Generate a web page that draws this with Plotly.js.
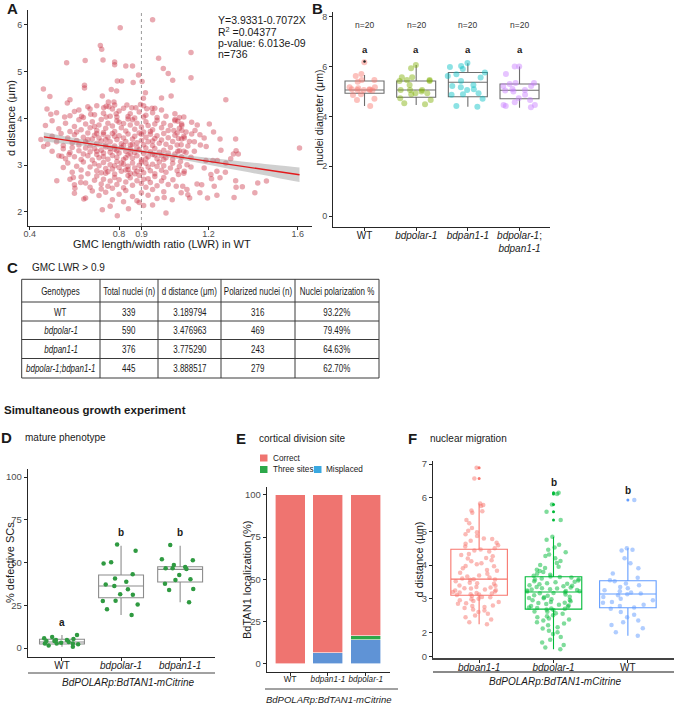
<!DOCTYPE html>
<html><head><meta charset="utf-8">
<script src="https://cdn.plot.ly/plotly-3.0.1.min.js"></script>
<style>html,body{margin:0;padding:0;background:#fff}#chart{width:674px;height:705px}</style>
</head><body><div id="chart"></div>
<script>
// ===== Panel A: GMC LWR vs d distance (WT) =====
const gmcPoints = [
[0.95,6.11],[0.805,5.94],[0.716,5.56],[0.722,5.48],[0.565,5.19],[0.648,5.24],[0.728,5.25],[0.78,5.21],[0.78,5.15],[0.83,5.12],[0.86,5.12],[0.977,5.29],[0.998,5.07],[1.02,4.96],[1.04,4.82],[0.887,4.93],[0.863,4.77],[0.792,4.8],[0.811,4.8],[0.903,4.79],[0.645,4.71],[0.645,4.65],[0.765,4.62],[0.789,4.59],[0.461,4.63],[0.49,4.47],[0.725,4.48],[0.918,4.55],[0.909,4.43],[0.99,4.44],[1.033,4.48],[0.58,4.4],[0.568,4.33],[0.752,4.35],[0.777,4.35],[0.835,4.29],[0.857,4.23],[0.875,4.23],[0.896,4.3],[0.91,4.27],[0.924,4.21],[0.947,4.22],[0.96,4.22],[0.477,4.2],[0.494,4.09],[0.62,4.18],[0.67,4.2],[0.731,4.23],[0.742,4.26],[0.755,4.25],[0.77,4.2],[0.556,4.03],[0.632,4.05],[0.673,4.09],[0.742,4.03],[0.787,4.1],[0.79,4.03],[0.84,4.04],[0.91,4.03],
[1.122,5.41],[1.122,4.87],[1.278,4.4],[1.608,3.37],
[1.204,3.88],[1.223,3.71],[1.252,3.56],[1.322,3.56],[1.324,3.31],[1.334,3.24],[1.312,3.24],[1.30,3.14],[1.256,3.32],[1.278,3.05],[1.276,2.85],[1.238,2.87],[1.214,2.71],[1.252,2.73],[1.322,2.67],[1.324,2.53],[1.352,2.54],[1.421,2.62],[1.46,2.66],[1.408,2.41],[1.315,2.31],[1.238,2.36],[1.196,2.30],[1.162,2.41],[1.116,2.30],[1.104,2.48],[1.085,2.55],[1.149,2.60],[1.17,2.58],[1.226,2.55],[1.211,2.80],[1.181,2.94],[1.189,3.10],[1.22,3.10],[1.24,3.10],[1.164,3.43],[1.181,3.58],[1.19,3.40],[1.162,3.65],[1.14,3.74],[1.125,3.67],[1.10,3.71],[1.081,3.74],[1.06,3.69],[1.045,3.74],[1.066,3.57],[1.092,3.58],[1.115,3.51],[1.137,3.50],[1.078,3.44],[1.108,3.41],[1.137,3.30],[1.09,3.30],[1.063,3.30],[1.122,3.17],[1.075,3.08],[1.104,3.01],[1.122,2.96],[1.092,2.87],[1.066,2.80],[1.041,2.69],[1.056,2.55],[1.078,2.41],[1.108,2.37],[1.038,2.26],[1.063,3.94],[1.081,3.85],[1.125,3.92],[1.05,3.98],[1.15,3.86],[1.07,4.02],
[0.462,3.40],[0.521,2.67],[0.642,2.28],[0.725,2.05],[0.792,1.92],[0.842,2.07],[0.91,2.14],[1.002,2.31],[1.01,1.98],[0.602,2.51],[0.595,2.74],[0.628,2.63],[0.543,3.19],[0.576,3.23],
[0.52,4.12],[0.6,4.15],[0.64,4.02],[0.69,4.08],[0.7,4.27],[0.73,4.11],[0.76,4.05],[0.8,4.16],[0.82,4.22],[0.85,4.1],[0.87,4.01],[0.89,4.14],[0.92,4.07],[0.95,4.12],[0.97,4.02],[0.99,4.18],[1.01,4.05],[1.05,4.1],[1.09,4.03],[0.78,4.29],[0.66,4.25],[0.58,4.06],
[0.47,3.85],[0.5,3.95],[0.53,3.78],[0.56,3.9],[0.58,3.72],[0.6,3.83],[0.62,3.97],[0.63,3.76],[0.65,3.88],[0.67,3.8],[0.68,3.93],[0.7,3.74],[0.71,3.86],[0.72,3.98],[0.74,3.79],[0.75,3.9],[0.77,3.84],[0.78,3.72],[0.79,3.95],[0.81,3.8],[0.82,3.89],[0.83,3.73],[0.85,3.86],[0.86,3.97],[0.87,3.77],[0.88,3.9],[0.9,3.82],[0.91,3.71],[0.92,3.93],[0.93,3.85],[0.95,3.76],[0.96,3.88],[0.97,3.96],[0.99,3.8],[1.0,3.9],[1.02,3.74],[1.03,3.85],[1.05,3.95],[1.07,3.79],[1.08,3.88],[0.73,3.7],[0.84,3.99],[0.94,3.72],[0.8,3.92],[0.69,3.83],[0.61,3.71],
[0.45,3.55],[0.48,3.45],[0.5,3.62],[0.52,3.5],[0.54,3.68],[0.55,3.42],[0.57,3.58],[0.59,3.48],[0.6,3.65],[0.61,3.53],[0.62,3.43],[0.64,3.6],[0.65,3.5],[0.66,3.69],[0.67,3.41],[0.68,3.56],[0.69,3.64],[0.7,3.47],[0.71,3.58],[0.72,3.52],[0.73,3.66],[0.74,3.44],[0.75,3.6],[0.76,3.5],[0.77,3.68],[0.78,3.41],[0.79,3.55],[0.8,3.63],[0.81,3.46],[0.82,3.58],[0.83,3.51],[0.84,3.67],[0.85,3.43],[0.86,3.56],[0.87,3.62],[0.88,3.48],[0.89,3.69],[0.9,3.53],[0.91,3.44],[0.92,3.6],[0.93,3.5],[0.94,3.66],[0.95,3.42],[0.96,3.57],[0.97,3.63],[0.98,3.47],[0.99,3.54],[1.0,3.68],[1.01,3.45],[1.02,3.59],[1.04,3.51],[1.05,3.64],[1.06,3.43],[1.08,3.56],[1.09,3.62],[0.74,3.55],[0.86,3.45],[0.78,3.62],[0.9,3.66],[0.66,3.55],[0.82,3.42],[0.95,3.52],[0.7,3.68],
[0.5,3.3],[0.53,3.2],[0.55,3.35],[0.56,3.14],[0.58,3.27],[0.59,3.38],[0.6,3.18],[0.62,3.31],[0.63,3.12],[0.64,3.24],[0.65,3.37],[0.66,3.2],[0.67,3.29],[0.68,3.11],[0.69,3.35],[0.7,3.23],[0.71,3.16],[0.72,3.32],[0.73,3.26],[0.74,3.39],[0.75,3.13],[0.76,3.28],[0.77,3.21],[0.78,3.34],[0.79,3.17],[0.8,3.26],[0.81,3.38],[0.82,3.12],[0.83,3.3],[0.84,3.22],[0.85,3.35],[0.86,3.15],[0.87,3.27],[0.88,3.2],[0.89,3.33],[0.9,3.11],[0.91,3.25],[0.92,3.37],[0.93,3.18],[0.94,3.29],[0.95,3.23],[0.96,3.36],[0.97,3.14],[0.98,3.28],[0.99,3.2],[1.0,3.32],[1.01,3.16],[1.02,3.26],[1.03,3.38],[1.04,3.13],[1.05,3.24],[1.07,3.31],[1.08,3.18],[1.1,3.27],[0.73,3.18],[0.79,3.31],[0.85,3.25],[0.88,3.38],[0.92,3.14],[0.76,3.36],[0.83,3.16],[0.96,3.22],[0.7,3.3],[1.0,3.12],
[0.55,2.95],[0.57,3.05],[0.59,2.85],[0.61,2.98],[0.63,2.9],[0.64,3.07],[0.66,2.82],[0.67,2.96],[0.69,3.03],[0.7,2.88],[0.71,2.99],[0.72,2.84],[0.73,3.06],[0.74,2.93],[0.75,2.86],[0.76,3.01],[0.77,2.92],[0.78,2.81],[0.79,3.08],[0.8,2.95],[0.81,2.87],[0.82,3.02],[0.83,2.9],[0.84,2.98],[0.85,2.83],[0.86,3.05],[0.87,2.94],[0.88,2.87],[0.89,3.0],[0.9,2.91],[0.91,2.84],[0.92,3.04],[0.93,2.96],[0.94,2.88],[0.95,3.02],[0.96,2.82],[0.97,2.97],[0.98,3.07],[0.99,2.89],[1.0,2.99],[1.01,2.85],[1.03,2.94],[1.04,3.04],[1.06,2.88],[1.07,2.97],[1.09,2.83],[0.78,2.99],[0.84,2.91],[0.9,3.07],[0.74,2.83],[0.87,2.82],[0.81,3.05],
[0.58,2.7],[0.6,2.58],[0.63,2.75],[0.65,2.62],[0.67,2.53],[0.69,2.68],[0.7,2.77],[0.72,2.6],[0.73,2.7],[0.75,2.55],[0.76,2.66],[0.78,2.74],[0.79,2.59],[0.8,2.69],[0.82,2.52],[0.83,2.64],[0.85,2.73],[0.86,2.57],[0.88,2.67],[0.89,2.78],[0.9,2.61],[0.92,2.53],[0.93,2.71],[0.94,2.63],[0.96,2.76],[0.97,2.56],[0.99,2.66],[1.0,2.74],[1.02,2.59],[0.84,2.78],[0.91,2.7],[0.77,2.51],
[0.6,2.4],[0.65,2.3],[0.68,2.45],[0.71,2.35],[0.74,2.42],[0.77,2.26],[0.8,2.38],[0.83,2.46],[0.86,2.33],[0.88,2.24],[0.9,2.41],[0.93,2.36],[0.95,2.48],[0.97,2.29],[1.0,2.43],[0.82,2.22],[0.72,2.49],
[0.76,2.12],[0.95,2.15],[0.89,2.2]
];
const lwrA = gmcPoints.map(p => p[0]);
const dDistA = gmcPoints.map(p => p[1]);
const fitX = [0.463, 1.608];
const fitY = [3.606, 2.796];
const bandX  = [0.463, 0.6, 0.75, 0.9, 1.05, 1.2, 1.35, 1.5, 1.608];
const bandLo = [3.506, 3.436, 3.356, 3.262, 3.144, 3.012, 2.876, 2.740, 2.640];
const bandHi = [3.706, 3.582, 3.450, 3.332, 3.238, 3.158, 3.080, 3.004, 2.950];
const statLines = ['Y=3.9331-0.7072X', 'R<sup>2</sup> =0.04377', 'p-value: 6.013e-09', 'n=736'];

// ===== Panel B: nuclei diameter =====
const genoB = ['WT', 'bdpolar-1', 'bdpan1-1', 'bdpolar-1;bdpan1-1'];
const nucWT     = [6.17,5.70,5.39,5.46,5.62,5.46,5.09,4.86,5.06,5.17,5.06,4.89,4.71,4.42,5.17,5.09,5.04,5.06,4.66,5.13];
const nucPolar  = [6.06,5.93,5.57,5.42,5.42,5.46,5.57,5.46,5.06,5.06,5.06,5.26,4.93,4.89,4.93,5.0,4.66,4.73,4.49,4.53];
const nucPan    = [6.02,5.42,5.9,5.62,5.76,5.69,6.14,5.98,5.06,5.26,4.93,4.87,4.89,4.71,4.39,4.42,5.22,5.17,5.09,5.56];
const nucDouble = [4.87,5.22,5.22,5.34,5.70,6.0,6.0,5.34,5.3,5.06,5.0,4.73,4.57,4.46,4.46,4.42,4.66,5.1,5.04,4.37];
const bQ1  = [4.93, 4.77, 4.79, 4.71];
const bMed = [5.06, 5.06, 5.37, 5.05];
const bQ3  = [5.42, 5.42, 5.76, 5.30];
const bLo  = [4.42, 4.46, 4.39, 4.35];
const bHi  = [5.66, 6.06, 6.13, 6.00];
const bOutX = [0];
const bOutY = [6.2];
const nB = [20, 20, 20, 20];
const letB = ['a', 'a', 'a', 'a'];

// ===== Table C =====
const tblHeader = ['Genotypes', 'Total nuclei (n)', 'd distance (\u03bcm)', 'Polarized nuclei (n)', 'Nuclei polarization %'];
const tblGeno   = ['WT', 'bdpolar-1', 'bdpan1-1', 'bdpolar-1;bdpan1-1'];
const tblTotal  = ['339', '590', '376', '445'];
const tblDist   = ['3.189794', '3.476963', '3.775290', '3.888517'];
const tblPol    = ['316', '469', '243', '279'];
const tblPct    = ['93.22%', '79.49%', '64.63%', '62.70%'];

// ===== Panel D: mature phenotype =====
const genoD = ['WT', 'bdpolar-1', 'bdpan1-1'];
const defWT    = [7.6,4.7,2.7,4.7,5.3,2.7,0.8,6.4,4.1,3.5,5.7,2.7,2.2,4.1,3.1,1.4];
const defPolar = [60.6,56.9,50.1,49.5,40.7,43.1,38.8,37.2,36.2,34.3,31.4,31.2,25.5,27.7,27.5,22.6,19.3];
const defPan   = [60.2,51.3,51.9,48.5,47.4,46.6,46.2,46.6,42.7,39.8,40.2,34.5,33.9,37.6,26.7];
const dQ1  = [2.3, 29.4, 38.6];
const dMed = [3.5, 36.3, 46.0];
const dQ3  = [5.1, 42.7, 47.5];
const dLo  = [0.8, 19.3, 26.7];
const dHi  = [7.6, 59.8, 59.8];
const nD = [1524, 2139, 1757];
const letD = ['a', 'b', 'b'];

// ===== Panel E: cortical division site =====
const genoE = ['WT', 'bdpan1-1', 'bdpolar-1'];
const misplacedE = [0, 6.6, 14.3];
const threeE     = [0, 0, 2.2];
const correctE   = [100, 93.4, 83.5];
const nE = [59, 76, 91];

// ===== Panel F: nuclear migration =====
const genoF = ['bdpan1-1', 'bdpolar-1', 'WT'];
const migPan = [6.89,6.57,5.83,5.78,5.75,5.62,5.6,5.55,5.34,5.24,5.1,5.02,4.97,4.91,4.86,4.79,4.77,4.72,4.66,4.63,4.59,4.55,4.5,
4.46,4.43,4.4,4.33,4.3,4.26,4.21,4.19,4.14,4.11,4.05,4.02,3.97,3.96,3.9,3.85,3.83,3.77,3.74,3.69,3.66,3.63,3.6,
3.58,3.57,3.56,3.52,3.47,3.46,3.44,3.39,3.38,3.35,3.33,3.31,3.3,3.27,3.25,3.24,3.21,3.2,3.18,3.17,3.15,3.13,3.12,3.11,
3.08,3.05,3.04,3.0,2.98,2.95,2.93,2.9,2.86,2.85,2.8,2.78,2.75,2.72,2.68,2.65,2.6,2.55,2.5,2.45,2.38,2.3,2.24];
const migPolar = [6.15,6.11,5.8,5.58,5.34,4.84,4.75,4.6,4.52,4.45,4.38,4.31,4.27,4.2,4.12,4.06,4.0,3.95,3.91,3.86,3.82,3.79,3.74,3.71,3.68,3.66,
3.64,3.63,3.6,3.58,3.57,3.54,3.52,3.5,3.49,3.46,3.44,3.43,3.4,3.38,3.37,3.35,3.33,3.31,3.3,3.28,3.27,3.26,3.24,3.23,3.22,3.21,
3.19,3.17,3.16,3.12,3.1,3.09,3.06,3.04,3.02,3.01,2.98,2.96,2.95,2.92,2.9,2.88,2.87,2.84,2.82,2.8,2.78,2.77,2.74,2.72,2.71,2.7,
2.68,2.66,2.62,2.61,2.57,2.55,2.51,2.48,2.45,2.41,2.38,2.35,2.3,2.26,2.21,2.15,2.11,2.05,2.0,1.95,1.86,1.78,1.7,1.62,1.55,1.5];
const migWT = [5.93,4.5,4.45,4.43,4.2,4.05,3.9,3.75,3.62,3.55,3.52,3.45,3.4,3.35,3.31,3.25,3.22,3.18,3.15,
3.13,3.1,3.05,3.0,2.95,2.9,2.88,2.82,2.78,2.74,2.7,2.6,2.52,2.45,2.35,2.3,2.22,2.12,2.0,1.9];
const fQ1  = [3.10, 2.69, 2.73];
const fMed = [3.58, 3.20, 3.14];
const fQ3  = [4.47, 3.65, 3.53];
const fLo  = [2.24, 1.50, 1.90];
const fHi  = [5.83, 4.84, 4.50];
const fOut = [[6.57, 6.89], [5.34, 5.58, 5.80, 6.11, 6.15], [5.93]];
const nF = [93, 104, 39];
const letF = ['a', 'b', 'b'];
const fTickVals = [1.27, 2, 3, 4, 5, 6, 7];
const fTickText = ['0', '2', '3', '4', '5', '6', '7'];

// ===== helpers (layout only) =====
const W = 674, H = 705;
const PX = p => p / W, PY = p => 1 - p / H;
const FONT = '"Liberation Sans", Arial, Helvetica, sans-serif';
const TXT = '#1a1a1a', TICK = '#4d4d4d', AX = '#262626';
const ital = s => (s === 'WT' ? s : '<i>' + s + '</i>');
const italMulti = s => s.split(';').map(ital).join(';<br>');

function axis(extra) {
  return Object.assign({showline: true, linecolor: AX, linewidth: 1, ticks: 'outside', ticklen: 3, tickwidth: 1,
    tickcolor: AX, showgrid: false, zeroline: false, fixedrange: true, tickangle: 0,
    tickfont: {size: 9, color: TICK, family: FONT}}, extra);
}
function xAxis(extra) { return axis(Object.assign({ticklabelstandoff: -4}, extra)); }
function statBox(ax, pos, q1, med, q3, lo, hi, color, width, lw) {
  return {type: 'box', xaxis: 'x' + ax, yaxis: 'y' + ax, x: pos, q1: q1, median: med, q3: q3,
    lowerfence: lo, upperfence: hi, width: width, fillcolor: 'rgba(255,255,255,0)',
    line: {color: color, width: lw}, whiskerwidth: 0, boxpoints: false, hoverinfo: 'skip'};
}
function jitterPts(ax, pos, vals, color, size, opacity, width) {
  return {type: 'box', xaxis: 'x' + ax, yaxis: 'y' + ax, y: vals, x0: pos, boxpoints: 'all', jitter: 1,
    pointpos: 0, width: width, line: {width: 0, color: 'rgba(0,0,0,0)'}, fillcolor: 'rgba(0,0,0,0)',
    whiskerwidth: 0, marker: {color: color, size: size, opacity: opacity, line: {width: 0}}, hoverinfo: 'skip'};
}
const anns = [];
function ann(text, px, py, o) {
  o = o || {};
  anns.push({text: text, xref: 'paper', yref: 'paper', x: PX(px), y: PY(py), showarrow: false,
    xanchor: o.xa || 'center', yanchor: o.ya || 'middle', textangle: o.angle || 0,
    font: {size: o.size || 10, color: o.color || TXT, family: FONT}});
}
function dataAnn(text, ax, x, y, o) {
  o = o || {};
  anns.push({text: text, xref: 'x' + ax, yref: 'y' + ax, x: x, y: y, showarrow: false,
    xanchor: 'center', yanchor: 'middle', font: {size: o.size || 9, color: o.color || TXT, family: FONT}});
}

const traces = [];
// --- A ---
traces.push({type: 'scatter', mode: 'markers', x: lwrA, y: dDistA, xaxis: 'x', yaxis: 'y',
  marker: {color: '#C9283D', size: 5.5, opacity: 0.4, line: {width: 0}}, hoverinfo: 'skip'});
traces.push({type: 'scatter', mode: 'lines', x: bandX, y: bandLo, xaxis: 'x', yaxis: 'y',
  line: {width: 0, shape: 'spline'}, hoverinfo: 'skip'});
traces.push({type: 'scatter', mode: 'lines', x: bandX, y: bandHi, xaxis: 'x', yaxis: 'y', fill: 'tonexty',
  fillcolor: 'rgba(150,150,150,0.45)', line: {width: 0, shape: 'spline'}, hoverinfo: 'skip'});
traces.push({type: 'scatter', mode: 'lines', x: fitX, y: fitY, xaxis: 'x', yaxis: 'y',
  line: {color: '#E3191C', width: 1.3}, hoverinfo: 'skip'});

// --- B ---
traces.push(statBox(2, [0, 1, 2, 3], bQ1, bMed, bQ3, bLo, bHi, '#6e6e6e', 0.755, 1.1));
const colB = ['#F8766D', '#7CAE00', '#00BFC4', '#C77CFF'];
[nucWT, nucPolar, nucPan, nucDouble].forEach((v, i) => traces.push(jitterPts(2, i, v, colB[i], 6, 0.45, 0.85)));
traces.push({type: 'scatter', mode: 'markers', x: bOutX, y: bOutY, xaxis: 'x2', yaxis: 'y2',
  marker: {color: '#222', size: 2.5}, hoverinfo: 'skip'});

// --- D ---
traces.push(statBox(3, [0, 1, 2], dQ1, dMed, dQ3, dLo, dHi, '#8c8c8c', 0.76, 1.1));
[defWT, defPolar, defPan].forEach((v, i) => traces.push(jitterPts(3, i, v, '#2F9A41', 4.5, 1, 0.8)));

// --- E ---
const barBase = {type: 'bar', xaxis: 'x4', yaxis: 'y4', x: [0, 1, 2], width: 0.79, hoverinfo: 'skip'};
traces.push(Object.assign({}, barBase, {y: misplacedE, marker: {color: '#5F93D6', line: {color: '#fff', width: 0.6}}}));
traces.push(Object.assign({}, barBase, {y: threeE, marker: {color: '#2CA84A', line: {color: '#fff', width: 0.6}}}));
traces.push(Object.assign({}, barBase, {y: correctE, marker: {color: '#EF7470', line: {color: '#fff', width: 0.6}}}));

// --- F ---
const colF = ['#F8766D', '#00BA38', '#619CFF'];
[migPan, migPolar, migWT].forEach((v, i) => {
  traces.push(statBox(5, [i], [fQ1[i]], [fMed[i]], [fQ3[i]], [fLo[i]], [fHi[i]], colF[i], 0.76, 1.1));
  traces.push(jitterPts(5, i, v, colF[i], 4.5, 0.5, 0.8));
  traces.push({type: 'scatter', mode: 'markers', x: fOut[i].map(() => i), y: fOut[i], xaxis: 'x5', yaxis: 'y5',
    marker: {color: colF[i], size: 3}, hoverinfo: 'skip'});
});

// ===== annotations =====
ann('<b>A</b>', 12, 8, {size: 15});
ann('<b>B</b>', 317, 8, {size: 15});
ann('<b>C</b>', 12, 267, {size: 15});
ann('GMC LWR > 0.9', 30, 267, {xa: 'left', size: 10});
ann('<b>Simultaneous growth experiment</b>', 2, 410, {xa: 'left', size: 11.5});
ann('<b>D</b>', 6, 437, {size: 15});
ann('mature phenotype', 23, 437, {xa: 'left', size: 10});
ann('<b>E</b>', 241, 438, {size: 15});
ann('cortical division site', 257, 438, {xa: 'left', size: 10});
ann('<b>F</b>', 412, 438, {size: 15});
ann('nuclear migration', 428, 438, {xa: 'left', size: 10});

[20, 31.5, 42.8, 54].forEach((py, i) => ann(statLines[i], 216, py, {xa: 'left', size: 10.5}));
ann('d distance (\u03bcm)', 11, 118, {angle: -90, size: 11});
ann('GMC length/width ratio (LWR) in WT', 162, 244, {size: 11});
ann('nuclei diameter (\u03bcm)', 318.5, 118, {angle: -90, size: 10.5});
genoB.forEach((g, i) => { dataAnn('n=' + nB[i], 2, i, 7.65, {size: 8.5, color: '#333'}); dataAnn('<b>' + letB[i] + '</b>', 2, i, 6.67, {size: 9.5}); });
ann('% defective SCs', 10, 563, {angle: -90, size: 11});
genoD.forEach((g, i) => { dataAnn('n=' + nD[i], 3, i, 105.8, {size: 8.5, color: '#333'}); });
dataAnn('<b>' + letD[0] + '</b>', 3, 0, 15.2, {size: 10});
dataAnn('<b>' + letD[1] + '</b>', 3, 1, 67.3, {size: 10});
dataAnn('<b>' + letD[2] + '</b>', 3, 2, 67.3, {size: 10});
ann('<i>BdPOLARp:BdTAN1-mCitrine</i>', 128, 682, {size: 10});
ann('BdTAN1 localization (%)', 247, 580, {angle: -90, size: 11});
genoE.forEach((g, i) => dataAnn('n=' + nE[i], 4, i, 107.7, {size: 8.5, color: '#333'}));
ann('Correct', 270.5, 458, {xa: 'left', size: 8.2});
ann('Three sites', 270.5, 469.5, {xa: 'left', size: 8.2});
ann('Misplaced', 324, 469.5, {xa: 'left', size: 8.2});
ann('<i>BdPOLARp:BdTAN1-mCitrine</i>', 328, 699, {size: 9.5});
ann('d distance (\u03bcm)', 418.5, 560, {angle: -90, size: 11});
genoF.forEach((g, i) => dataAnn('n=' + nF[i], 5, i, 7.42, {size: 8.5, color: '#333'}));
dataAnn('<b>' + letF[0] + '</b>', 5, 0, 7.15, {size: 10});
dataAnn('<b>' + letF[1] + '</b>', 5, 1, 6.46, {size: 10});
dataAnn('<b>' + letF[2] + '</b>', 5, 2, 6.20, {size: 10});
ann('<i>BdPOLARp:BdTAN1-mCitrine</i>', 555, 681, {size: 10});

// Table C text (condensed afterwards to mimic the narrow typeface)
const tableStart = anns.length;
const colCenters = [60.9, 129, 189.5, 258, 337];
const rowCenters = [290.7, 311.5, 330.3, 349, 368.3];
tblHeader.forEach((h, c) => ann(h, colCenters[c], rowCenters[0], {size: 10.5}));
tblGeno.forEach((g, r) => {
  const cells = [ital(g), tblTotal[r], tblDist[r], tblPol[r], tblPct[r]];
  cells.forEach((t, c) => ann(t, colCenters[c], rowCenters[r + 1], {size: 10.5}));
});

// ===== shapes =====
const shapes = [];
function line(x0, y0, x1, y1, color, w, dash) {
  shapes.push({type: 'line', xref: 'paper', yref: 'paper', x0: PX(x0), y0: PY(y0), x1: PX(x1), y1: PY(y1),
    line: {color: color, width: w, dash: dash || 'solid'}});
}
shapes.push({type: 'line', xref: 'x', yref: 'y domain', x0: 0.9, x1: 0.9, y0: 0, y1: 1, layer: 'below',
  line: {color: '#9a9a9a', width: 1, dash: 'dot'}});
const tRows = [279.3, 302, 321, 339.5, 358.5, 378];
const tCols = [21.7, 100, 158, 221, 295, 379];
tRows.forEach(y => line(tCols[0], y, tCols[tCols.length - 1], y, '#3a3a3a', 1));
tCols.forEach(x => line(x, tRows[0], x, tRows[tRows.length - 1], '#3a3a3a', 1));
line(28, 673, 215, 673, '#444', 1);
line(265, 689, 398, 689, '#444', 1);
line(433, 672, 674, 672, '#8a8a8a', 2);
function rect(x0, y0, x1, y1, color) {
  shapes.push({type: 'rect', xref: 'paper', yref: 'paper', x0: PX(x0), y0: PY(y1), x1: PX(x1), y1: PY(y0),
    fillcolor: color, line: {width: 0}});
}
rect(260, 454.5, 267.5, 461.5, '#EF7470');
rect(260, 466, 267.5, 473, '#2CA84A');
rect(314, 466, 321.5, 473, '#3AA8E0');

const layout = {
  width: W, height: H, margin: {l: 0, r: 0, t: 0, b: 0}, showlegend: false,
  paper_bgcolor: '#fff', plot_bgcolor: '#fff', font: {family: FONT, color: TXT},
  boxmode: 'overlay', barmode: 'stack',
  xaxis: xAxis({domain: [PX(28), PX(312)], range: [0.392, 1.664], anchor: 'y',
    tickvals: [0.4, 0.8, 0.9, 1.2, 1.6], ticktext: ['0.4', '0.8', '0.9', '1.2', '1.6']}),
  yaxis: axis({domain: [PY(226), PY(10)], range: [1.70, 6.32], anchor: 'x', tickvals: [2, 3, 4, 5, 6]}),
  xaxis2: xAxis({domain: [PX(333), PX(550)], range: [-0.61, 3.59], anchor: 'y2',
    tickvals: [0, 1, 2, 3], ticktext: genoB.map(italMulti), tickfont: {size: 10, color: '#222', family: FONT}}),
  yaxis2: axis({domain: [PY(227), PY(12)], range: [-0.44, 8.19], anchor: 'x2', tickvals: [0, 2, 4, 6, 8]}),
  xaxis3: xAxis({domain: [PX(27.7), PX(215)], range: [-0.58, 2.59], anchor: 'y3',
    tickvals: [0, 1, 2], ticktext: genoD.map(ital), tickfont: {size: 10, color: '#222', family: FONT}}),
  yaxis3: axis({domain: [PY(657), PY(469)], range: [-5.26, 104.7], anchor: 'x3', tickvals: [0, 25, 50, 75, 100],
    tickfont: {size: 9.5, color: TICK, family: FONT}}),
  xaxis4: xAxis({domain: [PX(266.7), PX(390)], range: [-0.617, 2.64], anchor: 'y4',
    tickvals: [0, 1, 2], ticktext: genoE.map(ital), tickfont: {size: 8.2, color: '#222', family: FONT}}),
  yaxis4: axis({domain: [PY(672), PY(486.7)], range: [-4.92, 104.9], anchor: 'x4', tickvals: [0, 25, 50, 75, 100],
    tickfont: {size: 9.5, color: TICK, family: FONT}}),
  xaxis5: xAxis({domain: [PX(433), 1], range: [-0.62, 2.62], anchor: 'y5', linecolor: '#444', linewidth: 1.3,
    tickvals: [0, 1, 2], ticktext: genoF.map(ital), tickfont: {size: 10, color: '#222', family: FONT}}),
  yaxis5: axis({domain: [PY(658.3), PY(461)], range: [1.228, 7.09], anchor: 'x5',
    tickvals: fTickVals, ticktext: fTickText, tickfont: {size: 9.5, color: TICK, family: FONT}}),
  annotations: anns, shapes: shapes
};

Plotly.newPlot('chart', traces, layout, {staticPlot: true, displayModeBar: false}).then(gd => {
  gd.querySelectorAll('g.annotation').forEach(g => {
    const idx = +g.getAttribute('data-index');
    if (idx >= tableStart) {
      const t = g.querySelector('text');
      if (t) {
        t.style.transformBox = 'fill-box';
        t.style.transformOrigin = 'center';
        t.style.transform = 'scaleX(0.76)';
      }
    }
  });
});
</script></body></html>
